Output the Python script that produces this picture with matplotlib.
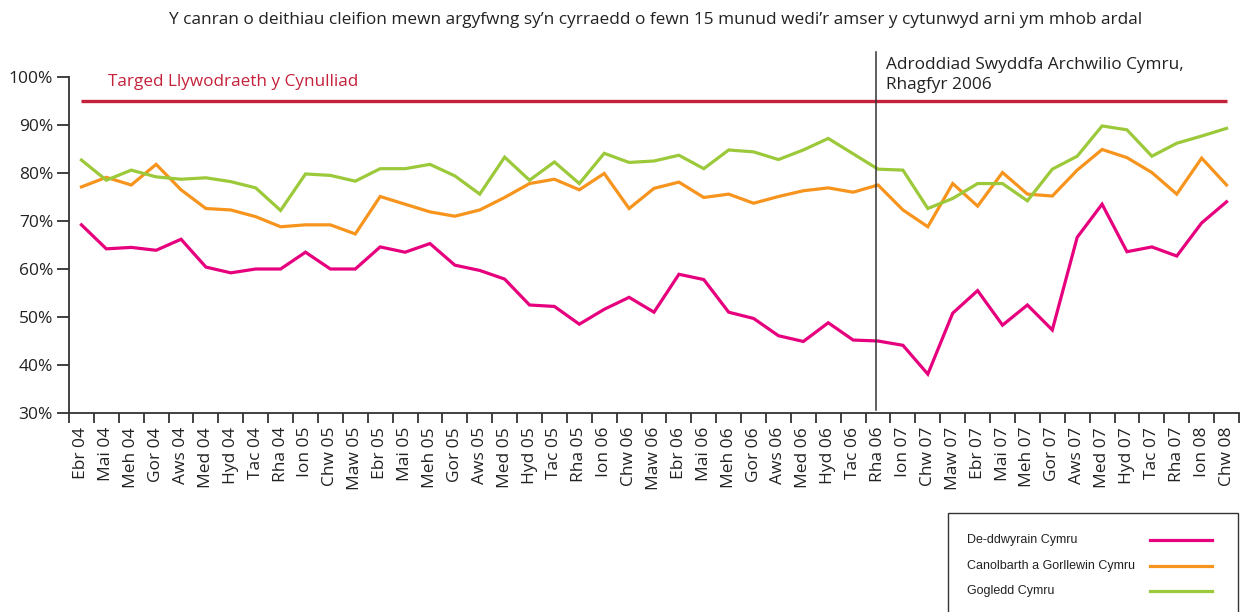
import matplotlib
matplotlib.use("Agg")
import matplotlib.pyplot as plt
from matplotlib.lines import Line2D
from matplotlib.patches import Rectangle
import numpy as np

plt.rcParams["font.family"] = ["Open Sans", "DejaVu Sans"]

months = [
    "Ebr 04", "Mai 04", "Meh 04", "Gor 04", "Aws 04", "Med 04", "Hyd 04", "Tac 04", "Rha 04",
    "Ion 05", "Chw 05", "Maw 05", "Ebr 05", "Mai 05", "Meh 05", "Gor 05", "Aws 05", "Med 05",
    "Hyd 05", "Tac 05", "Rha 05", "Ion 06", "Chw 06", "Maw 06", "Ebr 06", "Mai 06", "Meh 06",
    "Gor 06", "Aws 06", "Med 06", "Hyd 06", "Tac 06", "Rha 06", "Ion 07", "Chw 07", "Maw 07",
    "Ebr 07", "Mai 07", "Meh 07", "Gor 07", "Aws 07", "Med 07", "Hyd 07", "Tac 07", "Rha 07",
    "Ion 08", "Chw 08",
]

south_east = [
    69.2, 64.2, 64.5, 63.9, 66.2, 60.4, 59.2, 60.0, 60.0, 63.5, 60.0, 60.0, 64.6, 63.5, 65.3,
    60.8, 59.7, 57.9, 52.5, 52.2, 48.5, 51.6, 54.1, 51.0, 58.9, 57.8, 51.0, 49.7, 46.1, 44.9,
    48.8, 45.2, 45.0, 44.1, 38.1, 50.8, 55.5, 48.3, 52.5, 47.3, 66.6, 73.5, 63.6, 64.6, 62.7,
    69.6, 74.0,
]
mid_west = [
    77.1, 79.1, 77.5, 81.8, 76.5, 72.6, 72.3, 70.9, 68.8, 69.2, 69.2, 67.3, 75.1, 73.5, 71.9,
    71.0, 72.3, 74.9, 77.8, 78.7, 76.5, 79.9, 72.6, 76.8, 78.1, 74.9, 75.6, 73.7, 75.1, 76.3,
    76.9, 76.0, 77.5, 72.3, 68.8, 77.8, 73.1, 80.1, 75.6, 75.2, 80.6, 84.9, 83.2, 80.1, 75.6,
    83.1, 77.5,
]
north = [
    82.7, 78.5, 80.6, 79.2, 78.7, 79.0, 78.2, 76.9, 72.2, 79.8, 79.5, 78.3, 80.9, 80.9, 81.8,
    79.4, 75.6, 83.3, 78.5, 82.3, 77.8, 84.1, 82.2, 82.5, 83.7, 80.9, 84.8, 84.4, 82.8, 84.8,
    87.2, 84.0, 80.8, 80.6, 72.6, 74.7, 77.8, 77.8, 74.2, 80.8, 83.5, 89.8, 89.0, 83.5, 86.2,
    87.7, 89.3,
]

series_names = ["De-ddwyrain Cymru", "Canolbarth a Gorllewin Cymru", "Gogledd Cymru"]
series_colors = ["#E6007E", "#F7941D", "#9BC93A"]
target = 95
report_pos = 31.9

fig = plt.figure(figsize=(12.41, 6.12), dpi=100)
ax = fig.add_axes([69 / 1241, 1 - 413 / 612, 1170 / 1241, 336 / 612])

x = np.arange(len(months))
for vals, col in zip([south_east, mid_west, north], series_colors):
    ax.plot(x, vals, color=col, lw=2.3, solid_joinstyle="miter")

ax.hlines(target, x[0], x[-1], color="#C4213A", lw=2.4, clip_on=False)
ax.text(1.05, 99.0, "Targed Llywodraeth y Cynulliad", color="#C4213A", fontsize=12.3,
        va="center", ha="left", clip_on=False)

ax.plot([report_pos, report_pos], [30.6, 105.3], color="#333333", lw=1.1, clip_on=False)
ax.text(report_pos + 0.4, 100.4, "Adroddiad Swyddfa Archwilio Cymru,\nRhagfyr 2006",
        fontsize=12.4, color="#222222", ha="left", va="center", linespacing=1.4,
        clip_on=False)

ax.set_xlim(-0.5, len(months) - 0.5)
ax.set_ylim(30, 100)
ax.set_yticks(np.arange(30, 101, 10))
ax.set_yticklabels([f"{v}%" for v in range(30, 101, 10)], fontsize=12.5, color="#222222")
ax.set_xticks(x)
ax.set_xticklabels(months, rotation=90, fontsize=12.5, color="#222222")
ax.set_xticks(np.arange(-0.5, len(months), 1), minor=True)
ax.tick_params(axis="x", which="major", length=0, pad=10)
ax.tick_params(axis="x", which="minor", length=7.5, width=1.3, color="#333333")
ax.tick_params(axis="y", length=8.5, width=1.3, color="#333333", pad=3)

for side in ["top", "right"]:
    ax.spines[side].set_visible(False)
for side in ["left", "bottom"]:
    ax.spines[side].set_color("#333333")
    ax.spines[side].set_linewidth(1.3)

fig.text(656 / 1241, 1 - 20 / 612,
         "Y canran o deithiau cleifion mewn argyfwng sy\u2019n cyrraedd o fewn 15 munud "
         "wedi\u2019r amser y cytunwyd arni ym mhob ardal",
         ha="center", va="center", fontsize=12.4, color="#222222")

# legend drawn by hand: text on the left, line sample on the right
fig.add_artist(Rectangle((948 / 1241, -0.05), (1238 - 948) / 1241, 0.05 + (612 - 513) / 612,
                         transform=fig.transFigure, fill=False, edgecolor="#333333", lw=1.0))
for k, (name, col) in enumerate(zip(series_names, series_colors)):
    yy = 1 - (540 + 25.5 * k) / 612
    fig.text(967 / 1241, yy, name, fontsize=9, family="Liberation Sans", va="center",
             ha="left", color="#222222")
    fig.add_artist(Line2D([1150 / 1241, 1212 / 1241], [yy, yy], transform=fig.transFigure,
                          color=col, lw=2.3))

fig.savefig("out.png", dpi=100)
